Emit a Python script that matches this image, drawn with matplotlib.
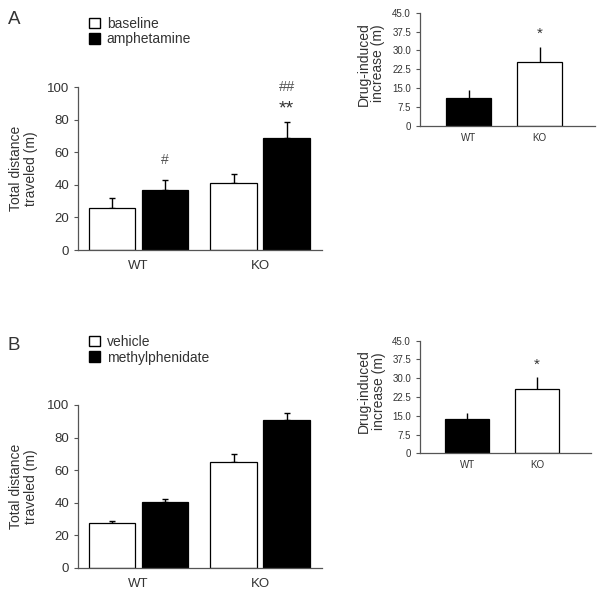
import numpy as np
import matplotlib.pyplot as plt
from matplotlib.patches import Patch

plt.rcParams['font.family'] = ['Liberation Sans', 'DejaVu Sans']

TEXT = '#333333'

# data
groups = ['WT', 'KO']

# panel A
a_base = [25.6, 41.4]
a_base_err = [6.2, 5.3]
a_amph = [36.9, 68.6]
a_amph_err = [6.1, 9.7]
a_inc = [11.2, 25.4]
a_inc_err = [3.1, 6.1]

# panel B
b_veh = [27.3, 65.1]
b_veh_err = [1.7, 4.9]
b_mph = [40.7, 90.6]
b_mph_err = [1.8, 4.4]
b_inc = [13.8, 25.6]
b_inc_err = [2.2, 4.8]

main_yticks = [0, 20, 40, 60, 80, 100]
inset_yticks = [0, 7.5, 15.0, 22.5, 30.0, 37.5, 45.0]
inset_ylabels = ['0', '7.5', '15.0', '22.5', '30.0', '37.5', '45.0']


def style_axes(ax):
    for s in ['top', 'right']:
        ax.spines[s].set_visible(False)
    for s in ['left', 'bottom']:
        ax.spines[s].set_color('#555555')
        ax.spines[s].set_linewidth(0.9)
    ax.tick_params(axis='x', length=0, colors=TEXT)
    ax.tick_params(axis='y', length=3, width=0.8, color='#555555', labelcolor=TEXT)


def main_panel(ax, white, white_err, black, black_err):
    centers = np.array([1.3, 3.92])
    off = 0.57
    for xs, vals, errs, fc in [(centers - off, white, white_err, 'white'),
                               (centers + off, black, black_err, 'black')]:
        ax.bar(xs, vals, width=1.0, color=fc, edgecolor='black', linewidth=0.9, zorder=2)
        ax.errorbar(xs, vals, yerr=[np.zeros(len(vals)), errs], fmt='none',
                    ecolor='black', elinewidth=1.0, capsize=2.5, capthick=1.0, zorder=1)
    ax.set_xlim(0, 5.25)
    ax.set_ylim(0, 100)
    ax.set_yticks(main_yticks)
    ax.set_xticks(centers)
    ax.set_xticklabels(groups, fontsize=9.5)
    ax.tick_params(axis='x', pad=7)
    ax.tick_params(axis='y', labelsize=9.5)
    ax.set_ylabel('Total distance\ntraveled (m)', fontsize=10, color=TEXT, linespacing=1.05)
    ax.yaxis.set_label_coords(-0.165, 0.5)
    style_axes(ax)
    return centers + off


def inset_panel(ax, vals, errs):
    xs = np.array([1.08, 2.66])
    ax.bar(xs, vals, width=1.0, color=['black', 'white'], edgecolor='black',
           linewidth=0.9, zorder=2)
    ax.errorbar(xs, vals, yerr=[np.zeros(len(vals)), errs], fmt='none',
                ecolor='black', elinewidth=1.0, capsize=0, zorder=1)
    ax.set_xlim(0, 3.89)
    ax.set_ylim(0, 45)
    ax.set_yticks(inset_yticks)
    ax.set_yticklabels(inset_ylabels, fontsize=7)
    ax.set_xticks(xs)
    ax.set_xticklabels(groups, fontsize=7)
    ax.set_ylabel('Drug-induced\nincrease (m)', fontsize=10, color=TEXT, linespacing=1.05)
    ax.yaxis.set_label_coords(-0.2, 0.55)
    style_axes(ax)
    ax.tick_params(axis='x', pad=5)
    return xs


fig = plt.figure(figsize=(6.0, 5.98), dpi=100)

axA = fig.add_axes([0.13, 0.5819, 0.4067, 0.2726])
axAi = fig.add_axes([0.70, 0.7893, 0.2917, 0.1895])
axB = fig.add_axes([0.13, 0.0502, 0.4067, 0.2726])
axBi = fig.add_axes([0.70, 0.2420, 0.2850, 0.1883])

xa = main_panel(axA, a_base, a_base_err, a_amph, a_amph_err)
axA.text(xa[0], 55, '#', ha='center', va='center', fontsize=10, color='#555555')
axA.text(xa[1], 86.5, '**', ha='center', va='center', fontsize=14, color=TEXT)
axA.text(xa[1], 100, '##', ha='center', va='center', fontsize=10.5, color='#555555',
         clip_on=False)

xai = inset_panel(axAi, a_inc, a_inc_err)
axAi.text(xai[1], 36.8, '*', ha='center', va='center', fontsize=11, color=TEXT)

main_panel(axB, b_veh, b_veh_err, b_mph, b_mph_err)
xbi = inset_panel(axBi, b_inc, b_inc_err)
axBi.text(xbi[1], 35.5, '*', ha='center', va='center', fontsize=11, color=TEXT)

# legends
for labels, ytop in [(['baseline', 'amphetamine'], 0.972), (['vehicle', 'methylphenidate'], 0.440)]:
    handles = [Patch(facecolor='white', edgecolor='black', linewidth=1.0),
               Patch(facecolor='black', edgecolor='black', linewidth=1.0)]
    fig.legend(handles, labels, loc='upper left', bbox_to_anchor=(0.148, ytop),
               frameon=False, fontsize=10, handlelength=0.8, handleheight=0.8,
               handletextpad=0.5, labelspacing=0.12, borderpad=0, borderaxespad=0,
               labelcolor=TEXT)

# panel letters
fig.text(0.013, 0.967, 'A', fontsize=13.5, color=TEXT, va='center', ha='left')
fig.text(0.013, 0.423, 'B', fontsize=13.5, color=TEXT, va='center', ha='left')

fig.savefig('out.png', dpi=100)
